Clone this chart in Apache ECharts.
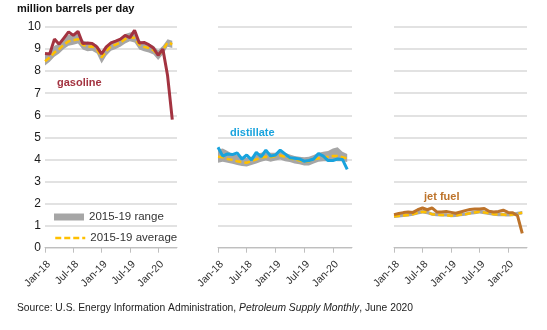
<!DOCTYPE html>
<html>
<head>
<meta charset="utf-8">
<script src="https://cdn.jsdelivr.net/npm/echarts@6/dist/echarts.min.js"></script>
<style>html,body{margin:0;padding:0;background:#fff}#c{width:547px;height:330px}</style>
</head>
<body>
<div id="c"></div>
<script>
var months = ['Jan-18','Feb-18','Mar-18','Apr-18','May-18','Jun-18','Jul-18','Aug-18','Sep-18','Oct-18','Nov-18','Dec-18',
  'Jan-19','Feb-19','Mar-19','Apr-19','May-19','Jun-19','Jul-19','Aug-19','Sep-19','Oct-19','Nov-19','Dec-19',
  'Jan-20','Feb-20','Mar-20','Apr-20','May-20'];
var yTicks = [0,1,2,3,4,5,6,7,8,9,10];

var gasoline = [8.8, 8.78, 9.45, 9.22, 9.5, 9.78, 9.62, 9.8, 9.25, 9.27, 9.25, 9.1, 8.78, 9.1, 9.28, 9.36, 9.45, 9.62, 9.52, 9.85, 9.28, 9.3, 9.2, 9.05, 8.72, 9.0, 7.8, 5.8];
var gasAvg = [8.45, 8.62, 8.85, 9.0, 9.2, 9.35, 9.4, 9.45, 9.2, 9.1, 9.12, 9.0, 8.62, 8.9, 9.12, 9.2, 9.3, 9.45, 9.55, 9.5, 9.2, 9.1, 9.05, 8.95, 8.72, 8.95, 9.3, 9.22];
var gasMin = [8.25, 8.42, 8.65, 8.8, 9.0, 9.15, 9.2, 9.25, 8.98, 8.9, 8.92, 8.8, 8.35, 8.7, 8.92, 9.0, 9.1, 9.25, 9.35, 9.3, 8.98, 8.9, 8.85, 8.75, 8.5, 8.75, 9.1, 9.05];
var gasMax = [8.8, 8.85, 9.15, 9.25, 9.5, 9.65, 9.65, 9.72, 9.4, 9.3, 9.3, 9.2, 8.85, 9.12, 9.35, 9.4, 9.5, 9.68, 9.75, 9.78, 9.4, 9.3, 9.25, 9.15, 8.95, 9.15, 9.45, 9.38];

var distillate = [4.55, 4.15, 4.25, 4.22, 4.3, 4.02, 4.2, 3.98, 4.32, 4.12, 4.42, 4.15, 4.2, 4.42, 4.25, 4.08, 4.05, 4.02, 3.92, 3.95, 4.02, 4.27, 4.15, 3.95, 3.95, 4.02, 4.0, 3.55];
var distAvg = [4.12, 4.1, 4.02, 3.98, 3.92, 3.88, 3.85, 3.92, 4.0, 4.08, 4.12, 4.1, 4.15, 4.18, 4.12, 4.05, 4.0, 3.95, 3.9, 3.92, 4.0, 4.05, 4.1, 4.12, 4.15, 4.15, 4.1, 4.05];
var distMin = [3.85, 3.9, 3.85, 3.8, 3.75, 3.7, 3.68, 3.75, 3.82, 3.9, 3.95, 3.9, 3.95, 4.0, 3.92, 3.88, 3.82, 3.78, 3.72, 3.72, 3.82, 3.9, 3.92, 3.92, 3.95, 3.92, 3.92, 3.88];
var distMax = [4.45, 4.5, 4.38, 4.25, 4.2, 4.1, 4.08, 4.12, 4.25, 4.3, 4.35, 4.3, 4.3, 4.4, 4.3, 4.22, 4.15, 4.12, 4.1, 4.12, 4.2, 4.3, 4.35, 4.38, 4.5, 4.55, 4.35, 4.25];

var jetFuel = [1.5, 1.55, 1.59, 1.62, 1.6, 1.72, 1.8, 1.72, 1.8, 1.62, 1.62, 1.64, 1.6, 1.56, 1.62, 1.68, 1.73, 1.75, 1.75, 1.78, 1.65, 1.62, 1.64, 1.7, 1.6, 1.58, 1.45, 0.65];
var jetAvg = [1.42, 1.44, 1.46, 1.48, 1.52, 1.58, 1.63, 1.6, 1.52, 1.5, 1.48, 1.48, 1.45, 1.46, 1.5, 1.52, 1.56, 1.6, 1.63, 1.6, 1.55, 1.52, 1.5, 1.5, 1.48, 1.5, 1.55, 1.58];
var jetMin = [1.35, 1.37, 1.39, 1.41, 1.45, 1.5, 1.55, 1.52, 1.45, 1.43, 1.41, 1.41, 1.38, 1.39, 1.43, 1.45, 1.49, 1.52, 1.55, 1.52, 1.48, 1.45, 1.43, 1.43, 1.41, 1.43, 1.48, 1.5];
var jetMax = [1.5, 1.52, 1.54, 1.56, 1.6, 1.66, 1.72, 1.68, 1.6, 1.58, 1.56, 1.56, 1.53, 1.54, 1.58, 1.6, 1.64, 1.68, 1.72, 1.68, 1.63, 1.6, 1.58, 1.58, 1.56, 1.58, 1.63, 1.66];

var names = ['gasoline', 'distillate', 'jet fuel'];
var colors = ['#a33340', '#19a3dd', '#bd732a'];
var actual = [gasoline, distillate, jetFuel];
var avgs = [gasAvg, distAvg, jetAvg];
var mins = [gasMin, distMin, jetMin];
var maxs = [gasMax, distMax, jetMax];

var gridPos = [{left: 45, width: 132}, {left: 218, width: 134}, {left: 394, width: 133}];
var FONT = 'Liberation Sans, Arial, sans-serif';

var grids = [], xAxes = [], yAxes = [], series = [];
for (var p = 0; p < 3; p++) {
  grids.push({left: gridPos[p].left, width: gridPos[p].width, top: 27, height: 220.7});
  xAxes.push({
    type: 'category', gridIndex: p, data: months, boundaryGap: false,
    axisLine: {lineStyle: {color: '#bfbfbf', width: 1}},
    axisTick: {interval: 5, length: 5, lineStyle: {color: '#bfbfbf'}},
    axisLabel: {interval: 5, rotate: 45, fontSize: 10.5, color: '#333', fontFamily: FONT, margin: 11, verticalAlign: 'top'},
    splitLine: {show: false}
  });
  yAxes.push({
    type: 'value', gridIndex: p, min: yTicks[0], max: yTicks[yTicks.length - 1], interval: 1,
    axisLine: {show: false}, axisTick: {show: false},
    axisLabel: {show: p === 0, fontSize: 12, color: '#1a1a1a', fontFamily: FONT, margin: 4},
    splitLine: {lineStyle: {color: '#d9d9d9', width: 1.5}}
  });
  var diff = maxs[p].map(function (v, i) { return +(v - mins[p][i]).toFixed(3); });
  series.push({
    type: 'line', xAxisIndex: p, yAxisIndex: p, stack: 'r' + p, data: mins[p],
    symbol: 'none', lineStyle: {width: 0, opacity: 0}, silent: true, z: 1
  });
  series.push({
    name: '2015-19 range', type: 'line', xAxisIndex: p, yAxisIndex: p, stack: 'r' + p, data: diff,
    symbol: 'none', itemStyle: {color: '#a6a6a6'}, lineStyle: {width: 0, opacity: 0},
    areaStyle: {color: '#a6a6a6', opacity: 1}, z: 2
  });
  series.push({
    name: '2015-19 average', type: 'line', xAxisIndex: p, yAxisIndex: p, data: avgs[p],
    symbol: 'none', itemStyle: {color: '#ffc000'},
    lineStyle: {color: '#ffc000', width: 2.5, type: [6, 3]}, z: 3
  });
  series.push({
    name: names[p], type: 'line', xAxisIndex: p, yAxisIndex: p, data: actual[p],
    symbol: 'none', itemStyle: {color: colors[p]},
    lineStyle: {color: colors[p], width: 3}, z: 4
  });
}

var chart = echarts.init(document.getElementById('c'), null, {renderer: 'canvas'});
chart.setOption({
  animation: false,
  textStyle: {fontFamily: FONT},
  grid: grids, xAxis: xAxes, yAxis: yAxes, series: series,
  legend: [
    {data: ['2015-19 range'], left: 49, top: 206, icon: 'rect', itemWidth: 30, itemHeight: 7,
     textStyle: {fontSize: 11.5, color: '#333', fontFamily: FONT}, selectedMode: false},
    {data: [{name: '2015-19 average', itemStyle: {opacity: 0}}], left: 49, top: 227, itemWidth: 30, itemHeight: 14,
     itemStyle: {opacity: 0},
     lineStyle: {color: '#ffc000', width: 2.5, type: [6, 3]},
     textStyle: {fontSize: 11.5, color: '#333', fontFamily: FONT}, selectedMode: false}
  ],
  title: [
    {text: 'million barrels per day', left: 17, top: 3, padding: 0, textStyle: {fontSize: 11, fontWeight: 'bold', color: '#111', fontFamily: FONT}},
    {text: names[0], left: 57, top: 77, padding: 0, textStyle: {fontSize: 11, fontWeight: 'bold', color: colors[0], fontFamily: FONT}},
    {text: names[1], left: 230, top: 127, padding: 0, textStyle: {fontSize: 11, fontWeight: 'bold', color: colors[1], fontFamily: FONT}},
    {text: names[2], left: 424, top: 191, padding: 0, textStyle: {fontSize: 11, fontWeight: 'bold', color: colors[2], fontFamily: FONT}},
    {text: '{n|Source: U.S. Energy Information Administration, }{i|Petroleum Supply Monthly}{n|, June 2020}',
     left: 17, top: 303, padding: 0,
     textStyle: {fontWeight: 'normal', rich: {
       n: {fontSize: 10.3, fontWeight: 'normal', color: '#222', fontFamily: FONT},
       i: {fontSize: 10.3, fontWeight: 'normal', color: '#222', fontStyle: 'italic', fontFamily: FONT}}}}
  ]
});
</script>
</body>
</html>
